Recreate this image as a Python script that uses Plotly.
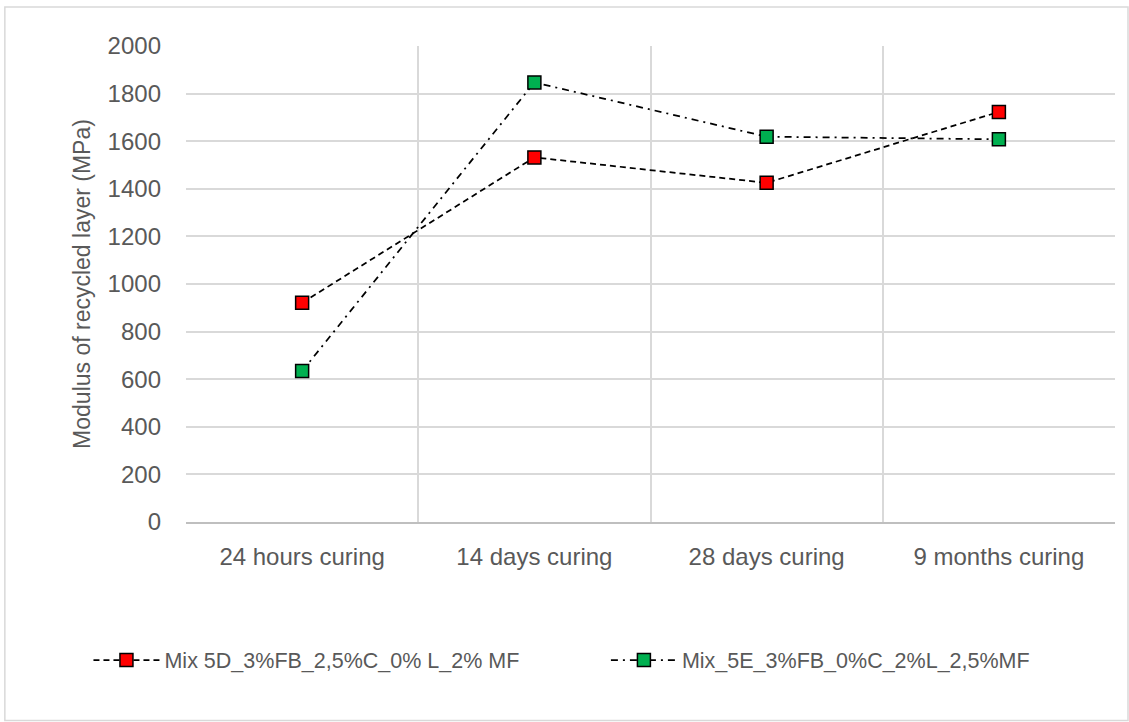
import plotly.graph_objects as go

categories = ["24 hours curing", "14 days curing", "28 days curing", "9 months curing"]
mix_5d = [921, 1532, 1425, 1723]
mix_5e = [634, 1847, 1619, 1608]
name_5d = "Mix 5D_3%FB_2,5%C_0% L_2% MF"
name_5e = "Mix_5E_3%FB_0%C_2%L_2,5%MF"
y_ticks = list(range(0, 2001, 200))

FONT = "Liberation Sans, Arial, sans-serif"
TXT = "#595959"

fig = go.Figure()
fig.add_trace(go.Scatter(
    x=categories, y=mix_5d, name=name_5d, mode="lines+markers", legend="legend",
    line=dict(color="black", width=1.75, dash="6px,4px"),
    marker=dict(symbol="square", size=13, color="#FF0000", line=dict(color="black", width=1.5)),
))
fig.add_trace(go.Scatter(
    x=categories, y=mix_5e, name=name_5e, mode="lines+markers", legend="legend2",
    line=dict(color="black", width=1.75, dash="7px,5px,2px,5px"),
    marker=dict(symbol="square", size=13, color="#00B050", line=dict(color="black", width=1.5)),
))

leg_common = dict(orientation="h", xanchor="left", y=-0.29, yanchor="middle",
                  font=dict(size=21.5, color=TXT), itemwidth=66, bgcolor="rgba(0,0,0,0)")

fig.update_layout(
    width=1129, height=722,
    margin=dict(l=186, r=14, t=46, b=200, autoexpand=False),
    paper_bgcolor="white", plot_bgcolor="white",
    font=dict(family=FONT, size=24, color=TXT),
    showlegend=True,
    legend=dict(x=-0.105, **leg_common),
    legend2=dict(x=0.452, **leg_common),
    xaxis=dict(type="category", tickson="boundaries", showgrid=True, gridcolor="#D9D9D9",
               gridwidth=1.5, showline=True, linecolor="#BFBFBF", linewidth=1.5,
               ticks="", range=[-0.5, 3.5], tickangle=0,
               tickfont=dict(size=24, color=TXT), ticklabelstandoff=12),
    yaxis=dict(range=[0, 2000], tickvals=y_ticks, showgrid=True, gridcolor="#D9D9D9",
               gridwidth=1.5, zeroline=False, showline=False, ticks="",
               tickfont=dict(size=24, color=TXT), ticklabelstandoff=24,
               title=dict(text="Modulus of recycled layer (MPa)", font=dict(size=23, color=TXT), standoff=10)),
    shapes=[dict(type="rect", xref="paper", yref="paper", x0=-0.195, x1=1.014, y0=-0.417, y1=1.082,
                 line=dict(color="#D9D9D9", width=1.5), fillcolor="rgba(0,0,0,0)", layer="below")],
)

fig.write_html("out.html", config={"displayModeBar": False},
               post_script="document.body.style.margin='0';")
